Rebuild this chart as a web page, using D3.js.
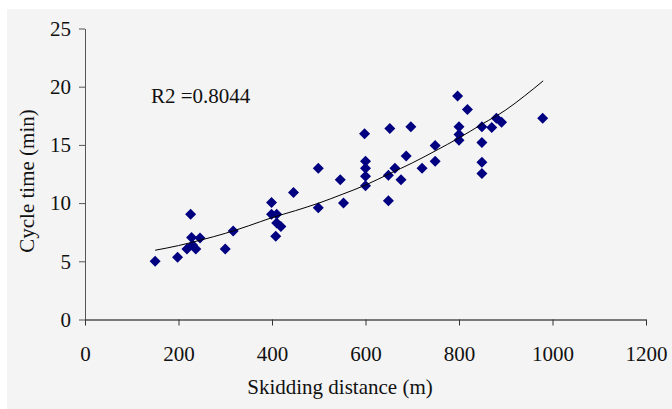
<!DOCTYPE html>
<html>
<head>
<meta charset="utf-8">
<script src="https://cdn.jsdelivr.net/npm/d3@7"></script>
<style>
  body { margin: 0; background: #fff; }
</style>
</head>
<body>
<div id="chart"></div>
<script>
// skidding distance (m) and cycle time (min)
const distance = [150, 198, 218, 226, 228, 230, 237, 246, 300, 317,
  399, 399, 410, 410, 408, 419, 446, 499, 499, 546, 553,
  598, 600, 600, 600, 600, 649, 652, 649, 663, 676, 687, 697, 721,
  749, 749, 797, 800, 800, 800, 818, 849, 849, 849, 849, 870, 880, 891, 979];
const cycleTime = [5.0, 5.35, 6.05, 9.05, 7.05, 6.4, 6.05, 7.0, 6.05, 7.6,
  10.05, 9.05, 9.05, 8.3, 7.15, 8.0, 10.9, 13.0, 9.6, 12.0, 10.0,
  15.95, 13.6, 13.0, 12.3, 11.5, 12.4, 16.4, 10.2, 13.0, 12.0, 14.05, 16.55, 13.0,
  14.95, 13.6, 19.2, 16.55, 15.9, 15.4, 18.05, 16.55, 15.2, 13.5, 12.55, 16.5, 17.3, 16.95, 17.3];

// trend line as drawn in the picture
const trendX = [150, 200, 250, 300, 350, 400, 450, 500, 550, 600, 650, 700, 750, 800, 850, 900, 940, 980];
const trendY = [5.95, 6.35, 6.85, 7.4, 8.05, 8.75, 9.35, 10.0, 10.75, 11.55, 12.5, 13.45, 14.5, 15.6, 16.8, 18.0, 19.2, 20.5];

const xTicks = [0, 200, 400, 600, 800, 1000, 1200];
const yTicks = [0, 5, 10, 15, 20, 25];
const r2Label = "R2 =0.8044";

const width = 672, height = 409;
const serif = "Liberation Serif, DejaVu Serif, serif";

const x = d3.scaleLinear().domain([0, 1200]).range([85, 646]);
const y = d3.scaleLinear().domain([0, 25]).range([319.5, 28.5]);

const svg = d3.select("#chart").append("svg")
    .attr("width", width)
    .attr("height", height)
    .attr("font-family", serif);

svg.append("rect")
    .attr("x", 7).attr("y", 9)
    .attr("width", width - 7).attr("height", height - 9)
    .attr("fill", "#f4f4f4");

// y axis
const yAxis = svg.append("g")
    .attr("transform", `translate(${x(0)},0)`)
    .call(d3.axisLeft(y).tickValues(yTicks).tickFormat(d3.format("d"))
        .tickSize(6).tickPadding(8).tickSizeOuter(0));
yAxis.attr("font-family", serif).attr("font-size", 21);
yAxis.select(".domain").attr("stroke", "#555");
yAxis.selectAll(".tick line").attr("stroke", "#555");
yAxis.selectAll(".tick text").attr("fill", "#111");

// x axis
const xAxis = svg.append("g")
    .attr("transform", `translate(0,${y(0)})`)
    .call(d3.axisBottom(x).tickValues(xTicks).tickFormat(d3.format("d"))
        .tickSize(6).tickPadding(21).tickSizeOuter(0));
xAxis.attr("font-family", serif).attr("font-size", 21);
xAxis.select(".domain").attr("stroke", "#000");
xAxis.selectAll(".tick line").attr("stroke", "#333");
xAxis.selectAll(".tick text").attr("fill", "#111");

// axis titles
svg.append("text")
    .attr("x", 340).attr("y", 394)
    .attr("text-anchor", "middle")
    .attr("font-size", 21)
    .attr("fill", "#111")
    .text("Skidding distance (m)");

svg.append("text")
    .attr("transform", "translate(34,181) rotate(-90)")
    .attr("text-anchor", "middle")
    .attr("font-size", 21)
    .attr("fill", "#111")
    .text("Cycle time (min)");

// points
const diamond = "M0,-5.5L5.5,0L0,5.5L-5.5,0Z";
svg.append("g")
    .attr("fill", "#000080")
    .selectAll("path")
    .data(distance)
    .join("path")
    .attr("d", diamond)
    .attr("transform", (d, i) => `translate(${x(d)},${y(cycleTime[i])})`);

// trend line
const line = d3.line()
    .x((d, i) => x(d))
    .y((d, i) => y(trendY[i]))
    .curve(d3.curveMonotoneX);
svg.append("path")
    .datum(trendX)
    .attr("fill", "none")
    .attr("stroke", "#000")
    .attr("stroke-width", 1)
    .attr("d", line);

svg.append("text")
    .attr("x", 151).attr("y", 103)
    .attr("font-size", 21)
    .attr("fill", "#111")
    .text(r2Label);
</script>
</body>
</html>
